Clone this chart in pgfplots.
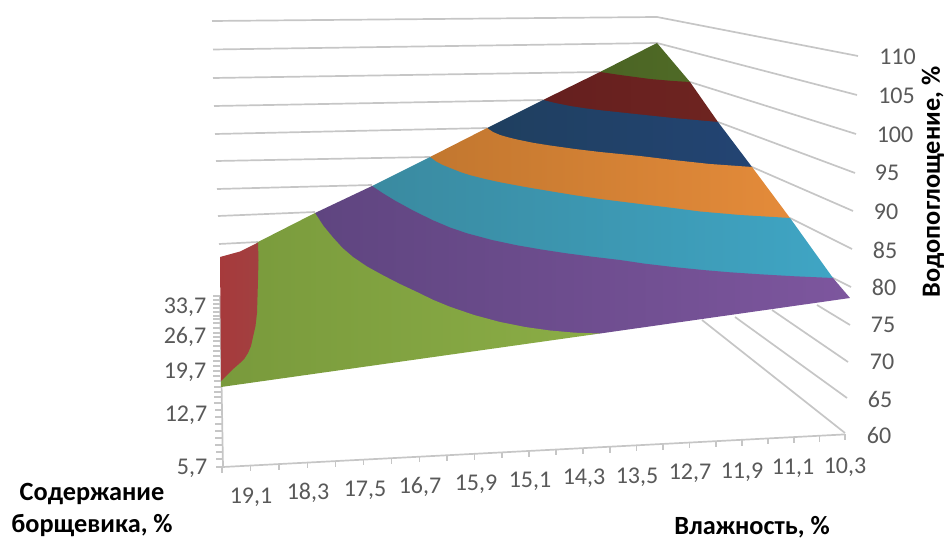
\documentclass[border=0pt]{standalone}
\usepackage{pgfplots}
\pgfplotsset{compat=1.18}
\usepackage{fontspec}
\setmainfont{Carlito}
\definecolor{gridc}{HTML}{C6C6C6}
\definecolor{lab}{HTML}{595959}
\definecolor{gA}{HTML}{4B6424}\definecolor{gB}{HTML}{4F6A26}
\definecolor{rA}{HTML}{651F1F}\definecolor{rB}{HTML}{6E2420}
\definecolor{nA}{HTML}{1F3F5F}\definecolor{nB}{HTML}{234473}
\definecolor{oA}{HTML}{C2772F}\definecolor{oB}{HTML}{E48B3A}
\definecolor{tA}{HTML}{3A8AA0}\definecolor{tB}{HTML}{3FA5C4}
\definecolor{pA}{HTML}{5F4580}\definecolor{pB}{HTML}{7D569E}
\definecolor{lA}{HTML}{799A3C}\definecolor{lB}{HTML}{8BAD46}
\definecolor{dA}{HTML}{A63A3C}\definecolor{dB}{HTML}{A24040}
\pgfplotsset{grid line/.style={color=gridc,line width=1.7bp,line join=round},
 band/.style={draw=none}}
\newcommand{\tl}[2]{\node[text=lab,font=\fontsize{24bp}{26bp}\selectfont,inner sep=0pt] at (axis cs:#1) {#2};}
\newcommand{\ttl}[2]{\node[text=black,font=\fontsize{26.3bp}{28bp}\selectfont\bfseries,inner sep=0pt] at (axis cs:#1) {#2};}
\begin{document}
\begin{tikzpicture}[x=1bp,y=1bp]
\useasboundingbox (0,0) rectangle (946,540);
\begin{axis}[at={(0,0)},anchor=south west,scale only axis,width=946bp,height=540bp,
  xmin=0,xmax=946,ymin=0,ymax=540,y dir=reverse,hide axis,clip=false,unbounded coords=jump]
% back wall gridlines
\addplot[grid line] coordinates {(212,21) (657,17) (858,56)};
\addplot[grid line] coordinates {(213,49.5) (657,43) (857,95)};
\addplot[grid line] coordinates {(213,78) (600,72)};
\addplot[grid line] coordinates {(690,82) (856,134)};
\addplot[grid line] coordinates {(214,106) (543,100)};
\addplot[grid line] coordinates {(718,122) (855,173)};
\addplot[grid line] coordinates {(215,134) (487,128)};
\addplot[grid line] coordinates {(752,167) (853,211)};
\addplot[grid line] coordinates {(216,161) (430,157)};
\addplot[grid line] coordinates {(790,218) (852,249)};
\addplot[grid line] coordinates {(217,189) (372,185)};
\addplot[grid line] coordinates {(825,274) (851,287)};
\addplot[grid line] coordinates {(218,216) (315,212)};
\addplot[grid line] coordinates {(817,305) (850,325)};
\addplot[grid line] coordinates {(219,244) (258,242)};
\addplot[grid line] coordinates {(772,310) (848,362)};
\addplot[grid line] coordinates {(735,317) (847,398)};
\addplot[grid line] coordinates {(702,320) (845,433)};
% floor edges
\addplot[grid line] coordinates {(220,296) (223,467) (845,434.4)};
% floor ticks
\addplot[grid line,line width=1.2bp] coordinates {
(222,466.6)(222,472.6)(0,nan)(250.5,465.1)(250.5,471.1)(0,nan)(279,463.6)(279,469.6)(0,nan)
(307.5,462.1)(307.5,468.1)(0,nan)(335.5,460.7)(335.5,466.7)(0,nan)(363.5,459.2)(363.5,465.2)(0,nan)
(391.5,457.8)(391.5,463.8)(0,nan)(419.5,456.3)(419.5,462.3)(0,nan)(447,454.9)(447,460.9)(0,nan)
(474.5,453.5)(474.5,459.5)(0,nan)(502,452.1)(502,458.1)(0,nan)(529,450.7)(529,456.7)(0,nan)
(556,449.3)(556,455.3)(0,nan)(583,447.9)(583,453.9)(0,nan)(610,446.5)(610,452.5)(0,nan)
(636.5,445.1)(636.5,451.1)(0,nan)(663,443.8)(663,449.8)(0,nan)(689.5,442.4)(689.5,448.4)(0,nan)
(716,441)(716,447)(0,nan)(742,439.7)(742,445.7)(0,nan)(768,438.3)(768,444.3)(0,nan)
(794,437)(794,443)(0,nan)(819.5,435.7)(819.5,441.7)(0,nan)(845,434.4)(845,440.4)};
\addplot[grid line,line width=1.2bp] coordinates {
(213,296)(220,296)(0,nan)(213,300)(220,300)(0,nan)(213,304)(220,304)(0,nan)(213,308)(220,308)(0,nan)
(213,312)(220,312)(0,nan)(213,316)(220,316)(0,nan)(213,319)(220,319)(0,nan)(213,323)(220,323)(0,nan)
(213,328)(220,328)(0,nan)(213,333)(220,333)(0,nan)(213,337)(220,337)(0,nan)(213,341)(220,341)(0,nan)
(213,346)(220,346)(0,nan)(213,351)(220,351)(0,nan)(213,356)(220,356)(0,nan)(213,361)(220,361)(0,nan)
(213,366)(220,366)(0,nan)(213,371)(220,371)(0,nan)(213,376)(220,376)(0,nan)(214,381)(221,381)(0,nan)
(214,387)(221,387)(0,nan)(214,392)(221,392)(0,nan)(214,397)(221,397)(0,nan)(214,403)(221,403)(0,nan)
(215,410)(222,410)(0,nan)(215,417)(222,417)(0,nan)(215,424)(222,424)(0,nan)(215,431)(222,431)(0,nan)
(215,438)(222,438)(0,nan)(215,445)(222,445)(0,nan)(216,452)(223,452)(0,nan)(216,459)(223,459)(0,nan)
(216,467)(223,467)};
% surface bands, from the apex down; each runs under the next band
\addplot[band,left color=gA,right color=gB] coordinates {(657,43) (690,82) (690,85) (673,84) (640,80) (600,75) (600,72)} -- cycle;
\addplot[band,left color=rA,right color=rB] coordinates {(600,72) (620,75) (650,79) (673,81) (690,82) (718,122) (718,125) (673,121) (640,117.5) (600,113) (570,109) (543,103) (543,100)} -- cycle;
\addplot[band,left color=nA,right color=nB] coordinates {(543,100) (555,103) (570,106) (585,108.3) (600,110.2) (640,114.5) (673,118) (718,122) (752,167) (752,170) (710,167) (673,163) (640,159) (600,155) (550,148.5) (500,138) (487,131) (487,128)} -- cycle;
\addplot[band,left color=oA,right color=oB] coordinates {(487,128) (493,132) (500,135) (508,137.3) (517,139.5) (533,142.8) (550,145.5) (575,149) (600,152) (640,156) (673,160) (710,164) (752,167) (790,218) (790,221) (740,218) (700,214.5) (673,211) (640,207) (600,202) (550,194) (500,185) (470,178) (450,171) (430,160) (430,157)} -- cycle;
\addplot[band,left color=tA,right color=tB] coordinates {(430,157) (436,161.5) (443,165.2) (450,168) (460,172) (470,175.2) (485,179) (500,182.3) (525,187) (550,191.2) (575,195.3) (600,199) (640,204) (673,208) (700,211.5) (740,215) (790,218) (833,278) (833,281) (760,277) (703,273) (673,270) (620,263) (567,256.4) (517,248) (467,236) (433,223) (395,203.5) (372,189) (372,186)} -- cycle;
\addplot[band,left color=pA,right color=pB] coordinates {(372,186) (383,193.3) (395,200.6) (414,211) (433,220.3) (450,227.5) (467,233.3) (492,240) (517,245.3) (542,249.6) (567,253.4) (593,256.8) (620,260) (645,263.7) (673,267) (703,270) (730,272.3) (760,274.3) (795,276.3) (833,278) (850,298) (600,333.5) (590,334.4) (550,332.5) (500,325) (450,310) (417,295) (383,278) (353,260) (333,240) (315,216) (315,213)} -- cycle;
\addplot[band,left color=lA,right color=lB] coordinates {(315,213) (323.5,226) (333,237.5) (342.5,248) (353,257) (367,266.5) (383,275.3) (399.5,283.8) (417,292) (433,299.8) (450,306.8) (474,315) (500,322) (525,327) (550,330.5) (575,332.7) (600,333.5) (221,387) (221,381) (240,355) (250,320) (250,250) (258,242)} -- cycle;
\addplot[band,left color=dA,right color=dB] coordinates {(220,257) (240,251.5) (258,242.5) (258.5,260) (258,280) (257.5,297) (257,313) (255.5,326) (253,337) (251,346) (248,353) (244.5,358.5) (240,363) (236,366.5) (232,370) (227,375) (221,381)} -- cycle;
% tick labels: moisture axis
\tl{251,497}{19,1}
\tl{308,493}{18,3}
\tl{365,490}{17,5}
\tl{420,487}{16,7}
\tl{476,484}{15,9}
\tl{530,481}{15,1}
\tl{584,478}{14,3}
\tl{637,477}{13,5}
\tl{690,473}{12,7}
\tl{742,472}{11,9}
\tl{793,468}{11,1}
\tl{845,467}{10,3}
% hogweed axis
\tl{185,307}{33,7}
\tl{185,337}{26,7}
\tl{185,372}{19,7}
\tl{186,415}{12,7}
\tl{192,468}{5,7}
% water absorption axis
\tl{897.5,57}{110}
\tl{896.5,96}{105}
\tl{895,135}{100}
\tl{887,173}{95}
\tl{886,212}{90}
\tl{885,250}{85}
\tl{884,287}{80}
\tl{883,325}{75}
\tl{882,362}{70}
\tl{880,399}{65}
\tl{879,435}{60}
% axis titles
\ttl{92,494}{Содержание}
\ttl{92,526}{борщевика, \%}
\ttl{752,527.5}{Влажность, \%}
\node[text=black,font=\fontsize{26.3bp}{28bp}\selectfont\bfseries,inner sep=0pt,rotate=90] at (axis cs:933,182) {Водопоглощение, \%};
\end{axis}
\end{tikzpicture}
\end{document}
